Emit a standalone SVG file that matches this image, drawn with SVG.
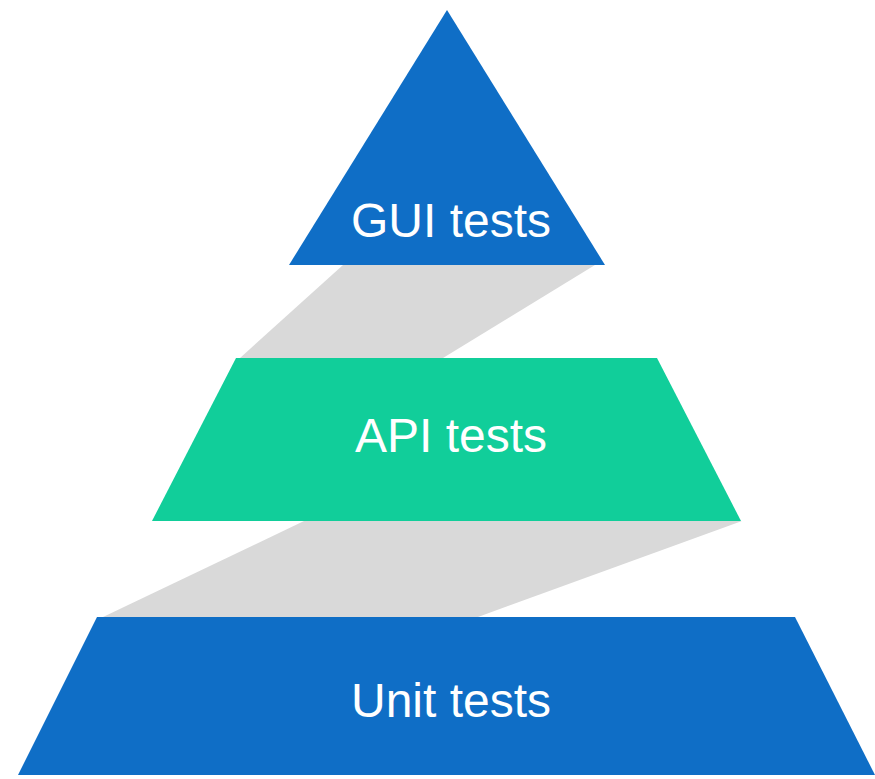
<svg xmlns="http://www.w3.org/2000/svg" width="875" height="779" viewBox="0 0 875 779">
<style>
.blue{fill:#0F6EC6}
.green{fill:#11CE9A}
.band{fill:#D9D9D9}
.lbl{font-family:"Liberation Sans",Arial,sans-serif;font-size:48px;fill:#FFFFFF;text-anchor:middle}
</style>
<rect width="875" height="779" fill="#FFFFFF"/>
<g id="connectors">
<polygon class="band" points="343,265 595,265 443,358 240,358"/>
<polygon class="band" points="304,521 742,521 478,617 103,617"/>
</g>
<g id="gui">
<polygon class="blue" points="447,10 605,265 289,265"/>
<text class="lbl" x="451" y="237">GUI tests</text>
</g>
<g id="api">
<polygon class="green" points="236,358 657,358 741,521 152,521"/>
<text class="lbl" x="451" y="452">API tests</text>
</g>
<g id="unit">
<polygon class="blue" points="97,617 795,617 875,775 18,775"/>
<text class="lbl" x="451" y="717">Unit tests</text>
</g>
</svg>
